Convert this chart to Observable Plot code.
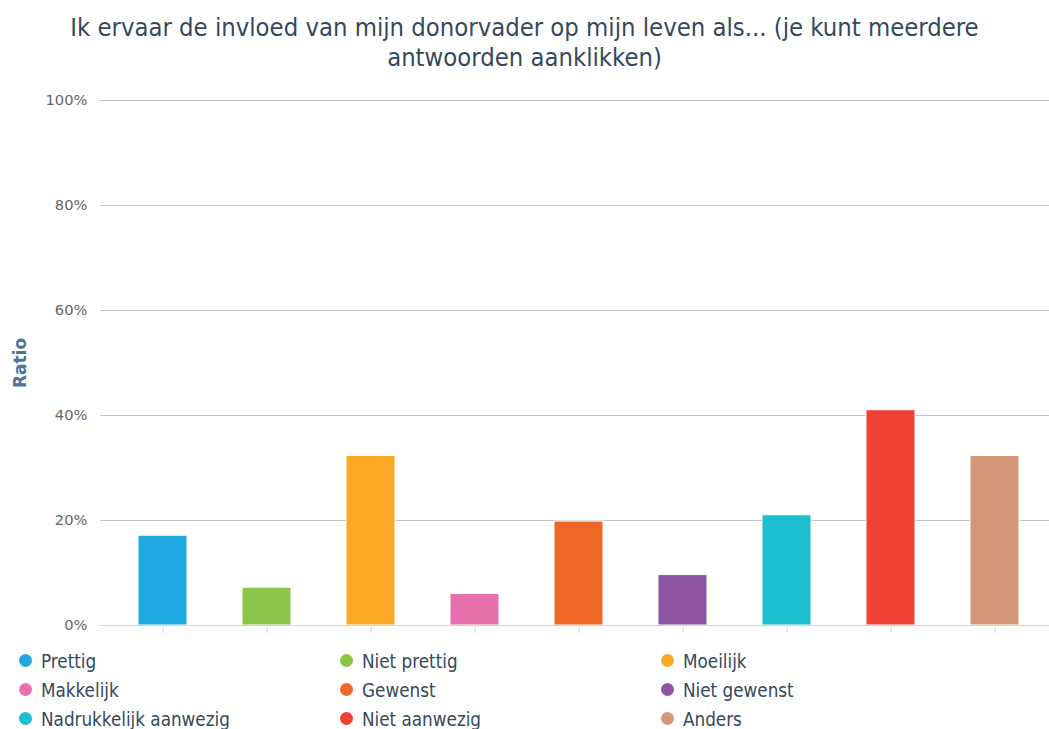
<!DOCTYPE html>
<html>
<head>
<meta charset="utf-8">
<script src="https://cdn.jsdelivr.net/npm/d3@7"></script>
<script src="https://cdn.jsdelivr.net/npm/@observablehq/plot@0.6"></script>
<style>
  body { margin: 0; background: #fff; width: 1049px; height: 729px; overflow: hidden; }
  #title { box-sizing: border-box; font-family: "DejaVu Sans Condensed", "DejaVu Sans", sans-serif; font-stretch: condensed; font-size: 25.4px; line-height: 30px; color: #34495e; text-align: center; padding: 12px 50px 0 50px; height: 72px; }
  #chart svg { display: block; }
  #legend { display: grid; grid-template-columns: 321px 321px 321px; padding-left: 19px; font-family: "DejaVu Sans Condensed", "DejaVu Sans", sans-serif; font-stretch: condensed; font-size: 18.7px; color: #34495e; }
  .item { display: flex; align-items: center; height: 29px; }
  .dot { width: 13px; height: 13px; border-radius: 50%; margin-right: 9px; flex: none; position: relative; top: -1px; }
</style>
</head>
<body>
<div id="title">Ik ervaar de invloed van mijn donorvader op mijn leven als... (je kunt meerdere antwoorden aanklikken)</div>
<div id="chart"></div>
<div id="legend"></div>
<script>
const categories = ["Prettig", "Niet prettig", "Moeilijk", "Makkelijk", "Gewenst", "Niet gewenst", "Nadrukkelijk aanwezig", "Niet aanwezig", "Anders"];
const values = [17.1, 7.2, 32.3, 6.0, 19.8, 9.6, 21.0, 41.0, 32.3];
const colors = ["#1fa9e1", "#8bc64a", "#fba925", "#e76fac", "#f06826", "#8e55a3", "#1bbfcf", "#ef4136", "#d5977a"];
const yTicks = [0, 20, 40, 60, 80, 100];
const yLabel = "Ratio";

const data = categories.map((c, i) => ({category: c, value: values[i]}));

const chart = Plot.plot({
  width: 1049,
  height: 575,
  marginLeft: 100,
  marginRight: 0,
  marginTop: 28,
  marginBottom: 22,
  style: {fontFamily: "DejaVu Sans, sans-serif", background: "#fff"},
  x: {domain: categories, range: [109, 1047], paddingInner: 0.53, paddingOuter: 0.265},
  y: {domain: [0, 100]},
  color: {domain: categories, range: colors},
  marks: [
    Plot.gridY(yTicks.filter(d => d > 0), {stroke: "#c4c4c4", strokeOpacity: 1}),
    Plot.barY(data, {x: "category", y: "value", fill: "category", stroke: "#ffffff", strokeWidth: 1}),
    Plot.ruleY([0], {stroke: "#ccd6eb"}),
    Plot.axisX({tickSize: 8, stroke: "#ccd6eb", fill: "none", label: null}),
    Plot.axisY({ticks: yTicks, tickFormat: d => d + "%", tickSize: 0, tickPadding: 13, fill: "#666666", fontSize: 14.7, label: null}),
    Plot.text([yLabel], {frameAnchor: "left", dx: -80, rotate: -90, textAnchor: "middle", text: d => d, fill: "#4d759e", fontWeight: "bold", fontSize: 17})
  ]
});
document.getElementById("chart").appendChild(chart);

const legend = document.getElementById("legend");
categories.forEach((c, i) => {
  const item = document.createElement("div");
  item.className = "item";
  const dot = document.createElement("span");
  dot.className = "dot";
  dot.style.background = colors[i];
  const label = document.createElement("span");
  label.textContent = c;
  item.appendChild(dot);
  item.appendChild(label);
  legend.appendChild(item);
});
</script>
</body>
</html>
